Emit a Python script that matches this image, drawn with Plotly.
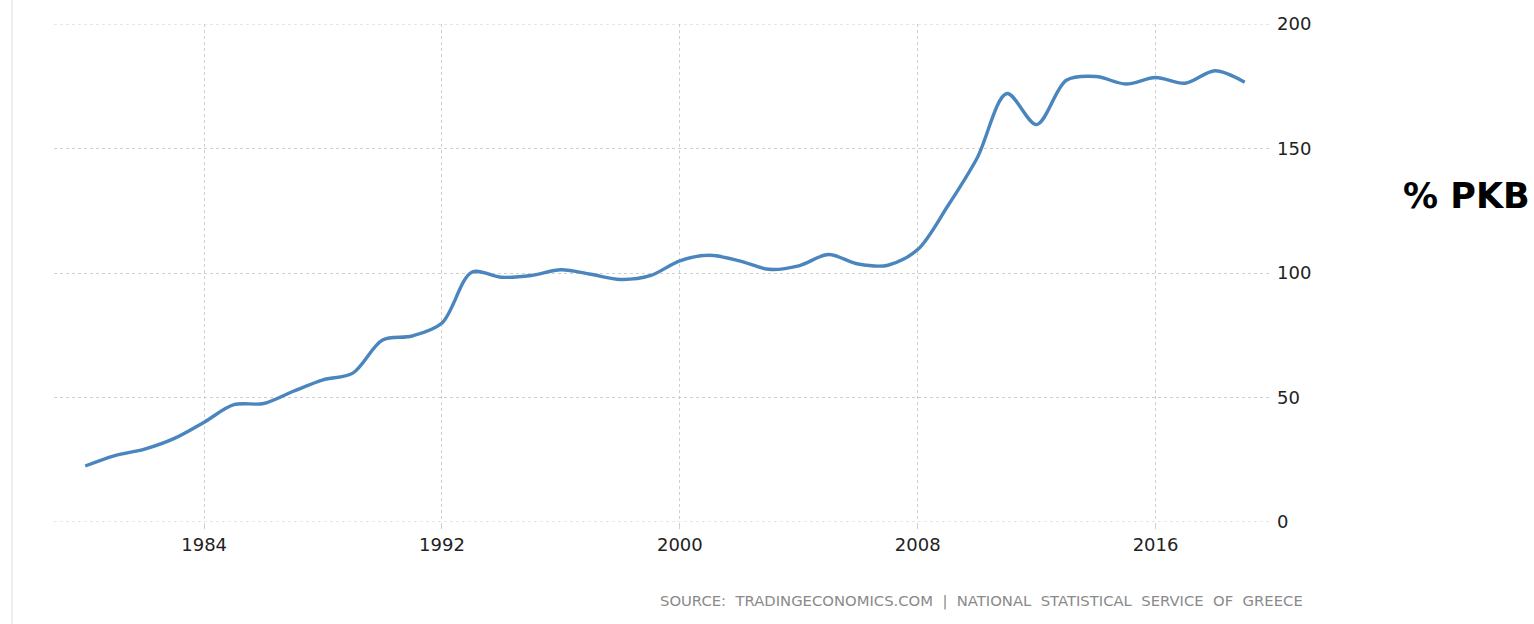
import plotly.graph_objects as go

years = list(range(1980, 2020))
debt_pct_gdp = [22.5, 26.7, 29.3, 33.6, 40.1, 47.1, 47.6, 52.5, 57.1, 59.8,
                73.1, 74.7, 79.9, 100.3, 98.3, 99.0, 101.3, 99.5, 97.4, 98.9,
                104.9, 107.1, 104.9, 101.5, 102.9, 107.4, 103.6, 103.1, 109.4, 126.7,
                146.2, 172.1, 159.6, 177.4, 178.9, 175.9, 178.5, 176.2, 181.2, 176.6]
x_ticks = [1984, 1992, 2000, 2008, 2016]
y_ticks = [0, 50, 100, 150, 200]
unit_label = "% PKB"
source_text = "SOURCE:  TRADINGECONOMICS.COM  |  NATIONAL  STATISTICAL  SERVICE  OF  GREECE"

W, H = 1534, 624
L, T = 54, 24
PW, PH = 1216, 498
R, B = W - L - PW, H - T - PH
GRID = "#cfcfcf"


def px(xp):
    return (xp - L) / PW


def py(yp):
    return (T + PH - yp) / PH


fig = go.Figure()
fig.add_trace(go.Scatter(
    x=years, y=debt_pct_gdp, mode="lines",
    line=dict(color="#4a85bd", width=3.4, shape="spline", smoothing=0.9),
    hoverinfo="x+y", showlegend=False,
))

edge_lines = [
    dict(type="line", xref="paper", yref="y",
         x0=0, x1=1, y0=v, y1=v, layer="below",
         line=dict(color=GRID, width=1, dash="dot"))
    for v in (y_ticks[0], y_ticks[-1])
]

fig.update_layout(
    width=W, height=H,
    margin=dict(l=L, r=R, t=T, b=B, pad=0),
    paper_bgcolor="white", plot_bgcolor="white",
    font=dict(family="DejaVu Sans", color="#222"),
    xaxis=dict(
        range=[1978.95, 2019.85], tickvals=x_ticks,
        showgrid=True, gridcolor=GRID, griddash="dot", gridwidth=1,
        ticks="outside", ticklen=6, tickcolor=GRID,
        showline=False, zeroline=False,
        tickfont=dict(family="DejaVu Sans", size=18, color="#222"),
    ),
    yaxis=dict(
        range=[0, 200], tickvals=y_ticks, side="right",
        showgrid=True, gridcolor=GRID, griddash="dot", gridwidth=1,
        zeroline=False, showline=False, ticks="", ticklabelstandoff=6,
        tickfont=dict(family="DejaVu Sans", size=18, color="#222"),
    ),
    shapes=[
        dict(type="line", xref="paper", yref="paper",
             x0=px(12), x1=px(12), y0=py(H + 5), y1=py(-5),
             line=dict(color="#eeeeee", width=2)),
    ] + edge_lines,
    annotations=[
        dict(text=f"<b>{unit_label}</b>", xref="paper", yref="paper",
             x=px(1532), y=py(196),
             xanchor="right", yanchor="middle", showarrow=False,
             font=dict(family="DejaVu Sans", size=35, color="black")),
        dict(text=source_text, xref="paper", yref="paper",
             x=px(1305), y=py(601),
             xanchor="right", yanchor="middle", showarrow=False,
             font=dict(family="DejaVu Sans", size=14.8, color="#8a8a8a")),
    ],
)

fig.write_html(
    "out.html",
    config={"displayModeBar": False},
    post_script="document.body.style.margin='0';document.body.style.overflow='hidden';",
)
